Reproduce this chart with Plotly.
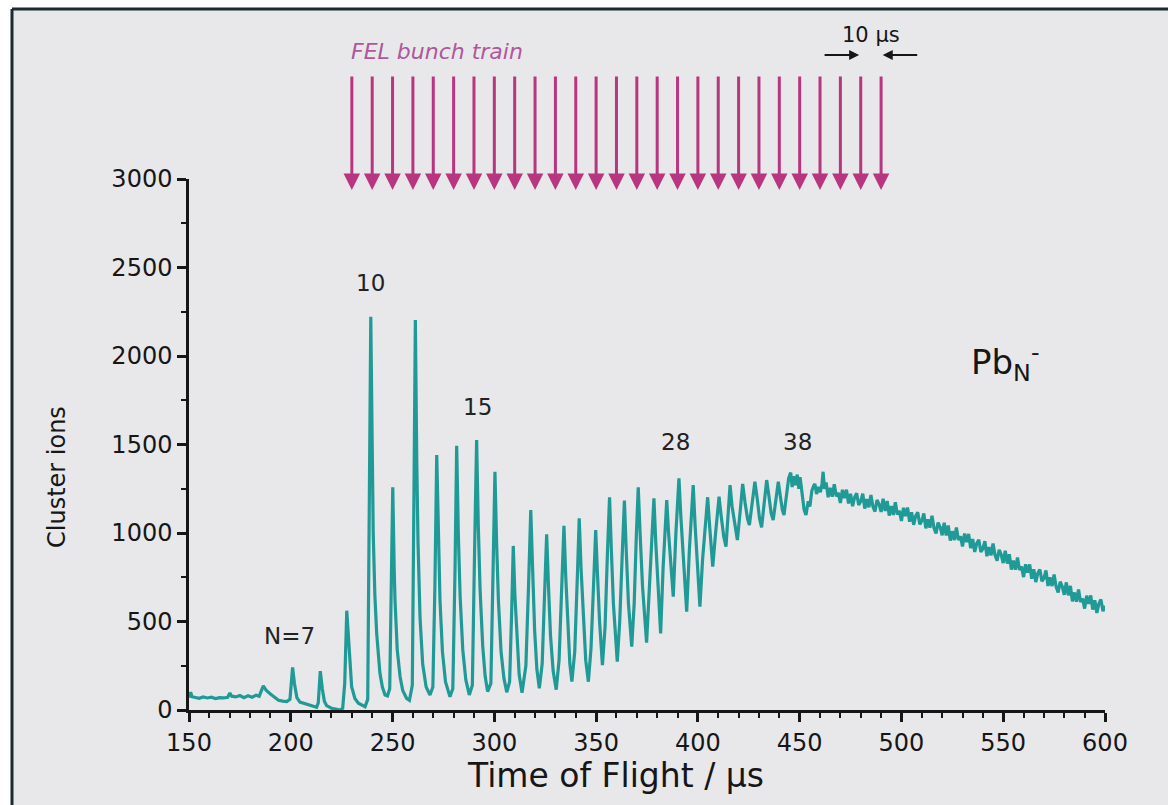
import plotly.graph_objects as go

# ---------------- data ----------------
tof_us = [
    150.0, 150.8, 151.5, 153, 155, 157, 159, 161, 163, 165, 167, 169, 170.1, 171, 173, 175, 177, 179, 181, 183,
    184.5, 186.5, 188, 190, 192, 194, 196, 198, 199.6, 200.9, 201.8, 203, 204.5, 207, 210, 212.7, 213.5, 214.5,
    215.5, 216.5, 217.6, 220, 222, 224.2, 225.5, 226.5, 227.5, 228.3, 229.2, 229.9, 231.5, 233.2, 236.5, 237.8,
    238.6, 239.3, 240.0, 240.5, 241.3, 242.2, 243.8, 245, 246.3, 247.5, 248.6, 249.4, 250.1, 250.8, 251.2, 252.3,
    253.7, 255, 256.9, 258.3, 259.7, 260.5, 261.2, 261.9, 262.5, 263.5, 264.8, 266.5, 268.4, 269.8, 270.8, 271.7,
    272.5, 273.3, 274.5, 276, 278.2, 279.6, 280.7, 281.5, 282.3, 283.2, 284.5, 286, 287.7, 289.2, 290.3, 291.3,
    292.1, 293, 294.3, 295.5, 296.7, 298.3, 299.4, 300.3, 301.1, 302, 303.3, 304.7, 306.1, 307.5, 308.5, 309.3,
    310.1, 311, 312.2, 313.6, 315.5, 316.8, 317.9, 318.8, 319.8, 320.9, 322.1, 323.5, 324.7, 325.7, 326.6, 327.6,
    328.9, 330.4, 331.8, 333.2, 334.2, 335.1, 336.1, 337.1, 338.1, 339.5, 340.8, 341.7, 342.6, 343.7, 344.9, 346.2,
    347.5, 348.9, 349.8, 350.7, 351.7, 353.1, 354.4, 355.6, 356.6, 357.5, 358.5, 360.4, 361.6, 362.9, 363.9, 364.8,
    365.9, 367.5, 368.7, 369.8, 370.7, 371.6, 372.8, 374.8, 376.2, 377.5, 378.4, 379.3, 380.3, 381.7, 382.9, 383.9,
    384.7, 385.6, 386.8, 387.9, 389.2, 390.7, 391.6, 392.8, 394.5, 395.8, 396.9, 397.7, 398.6, 399.7, 401, 402.3,
    403.8, 404.8, 405.7, 407.3, 408.7, 409.7, 410.4, 411.4, 412.7, 413.8, 415, 415.8, 416.8, 418.2, 419.4, 421,
    422, 423.2, 424.4, 425.3, 427, 428, 429.2, 430.3, 431.3, 433, 433.8, 435, 436, 437, 438.6, 439.5, 440.6,
    441.5, 442.3, 443.6, 444.6, 445.6, 446.3, 447.1, 448, 448.8, 449.6, 450.2, 451.2, 452.2, 453.1, 454.2, 455,
    456, 457, 457.5, 458.3, 459.2, 460.2, 461.0, 461.5, 462.2,
    463, 464, 465, 466, 467, 468, 469, 470, 471, 472, 473, 474, 475, 476, 477, 478, 479, 480, 481, 482, 483, 484,
    485, 486, 487, 488, 489, 490, 491, 492, 493, 494, 495, 496, 497, 498, 499, 500, 501, 502, 503, 504, 505, 506,
    507, 508, 509, 510, 511, 512, 513, 514, 515, 516, 517, 518, 519, 520, 521, 522, 523, 524, 525, 526, 527, 528,
    529, 530, 531, 532, 533, 534, 535, 536, 537, 538, 539, 540, 541, 542, 543, 544, 545, 546, 547, 548, 549, 550,
    551, 552, 553, 554, 555, 556, 557, 558, 559, 560, 561, 562, 563, 564, 565, 566, 567, 568, 569, 570, 571, 572,
    573, 574, 575, 576, 577, 578, 579, 580, 581, 582, 583, 584, 585, 586, 587, 588, 589, 590, 591, 592, 593, 594,
    595, 596, 597, 598, 599, 600,
]

cluster_ions = [
    70, 100, 75, 72, 66, 74, 68, 72, 65, 70, 68, 72, 96, 78, 74, 82, 70, 80, 72, 84,
    78, 136, 110, 90, 70, 55, 50, 48, 60, 241, 150, 70, 45, 35, 25, 15, 40, 220,
    120, 50, 25, 10, 5, 0, 10, 150, 561, 400, 200, 132, 65, 38, 19, 60,
    1200, 2222, 1500, 998, 650, 433, 207, 130, 85, 80, 120, 700, 1258, 800, 621, 340,
    188, 110, 66, 55, 140, 1200, 2203, 1400, 950, 520, 260, 130, 85, 130, 700, 1441,
    950, 620, 330, 160, 75, 120, 800, 1493, 1000, 640, 340, 170, 85, 140, 900, 1525,
    1050, 680, 360, 190, 104, 150, 800, 1346, 950, 620, 330, 180, 100, 160, 550, 927,
    650, 420, 200, 98, 250, 700, 1130, 800, 450, 230, 122, 260, 650, 993, 700, 420,
    220, 115, 280, 700, 1040, 750, 460, 260, 160, 330, 760, 1083, 800, 500, 280, 160,
    350, 750, 1017, 760, 500, 254, 470, 900, 1202, 900, 600, 273, 500, 900, 1183, 900,
    600, 358, 600, 1000, 1258, 1000, 700, 380, 700, 1000, 1196, 950, 700, 433, 800, 1050,
    1186, 1000, 800, 640, 1000, 1309, 1100, 850, 555, 900, 1150, 1271, 1050, 800, 584, 850,
    1100, 1202, 1050, 810, 1000, 1150, 1205, 1100, 980, 923, 1120, 1271, 1150, 1030, 960, 1150,
    1277, 1170, 1080, 1045, 1180, 1290, 1190, 1080, 1032, 1200, 1299, 1200, 1110, 1073, 1220, 1290, 1200,
    1130, 1102, 1240, 1310, 1341, 1260, 1320, 1270, 1330, 1250, 1315, 1200, 1130, 1102, 1180, 1150,
    1240, 1270, 1277, 1220, 1260, 1230, 1280, 1346, 1250,
    1286, 1202, 1255, 1205, 1276, 1207, 1227, 1170, 1244, 1197, 1245, 1167, 1221, 1151, 1202, 1224, 1158, 1178,
    1222, 1138, 1191, 1145, 1215, 1149, 1121, 1186, 1163, 1119, 1193, 1124, 1181, 1098, 1152, 1102, 1173, 1104,
    1125, 1068, 1142, 1096, 1144, 1064, 1117, 1046, 1096, 1117, 1049, 1068, 1110, 1026, 1077, 1030, 1097, 1028,
    997, 1059, 1034, 987, 1058, 986, 1042, 957, 1010, 960, 1031, 961, 982, 924, 997, 949, 995, 915, 966, 893,
    942, 962, 893, 911, 954, 869, 920, 873, 941, 874, 844, 905, 878, 830, 900, 827, 880, 793, 844, 793, 862,
    791, 810, 751, 823, 776, 822, 742, 795, 723, 774, 794, 727, 745, 788, 701, 750, 700, 766, 696, 664, 725,
    698, 651, 721, 648, 701, 614, 664, 612, 681, 610, 630, 573, 646, 599, 647, 567, 620, 548, 601, 624, 558, 589,
]

bunch_times_us = [230, 240, 250, 260, 270, 280, 290, 300, 310, 320, 330, 340, 350, 360,
                  370, 380, 390, 400, 410, 420, 430, 440, 450, 460, 470, 480, 490]

peak_labels = ["N=7", "10", "15", "28", "38"]
peak_label_x = [199.6, 239.2, 291.5, 389.0, 448.7]
peak_label_y = [418, 2410, 1712, 1514, 1514]

x_ticks = [150, 200, 250, 300, 350, 400, 450, 500, 550, 600]
y_ticks = [0, 500, 1000, 1500, 2000, 2500, 3000]

# ---------------- styling ----------------
TEAL = "#1f9a96"
MAGENTA = "#b8357f"
BG = "#e8e8ea"
FONT = "DejaVu Sans, Liberation Sans, Arial, sans-serif"
INK = "#161616"

W, H = 1168, 805
ML, MR, MT, MB = 189, 63, 179, 95
PW, PH = W - ML - MR, H - MT - MB


def px_to_paper_x(px):
    return (px - ML) / PW


def py_to_paper_y(py):
    return (H - MB - py) / PH


fig = go.Figure()
fig.add_trace(go.Scatter(x=tof_us, y=cluster_ions, mode="lines",
                         line=dict(color=TEAL, width=3.2), hoverinfo="x+y", showlegend=False))

annotations = []
# FEL bunch arrows
for t in bunch_times_us:
    annotations.append(dict(x=t, y=py_to_paper_y(190), xref="x", yref="paper", text="",
                            showarrow=True, ax=0, ay=-115, axref="pixel", ayref="pixel",
                            arrowhead=2, arrowsize=1.1, arrowwidth=3, arrowcolor=MAGENTA))
annotations.append(dict(x=bunch_times_us[0] - 1.2, y=py_to_paper_y(52), xref="x", yref="paper",
                        text="<i>FEL bunch train</i>", showarrow=False, xanchor="left", yanchor="middle",
                        font=dict(family=FONT, size=22, color="#b0569b")))
# 10 us spacing marker
annotations.append(dict(x=(bunch_times_us[-2] + bunch_times_us[-1]) / 2, y=py_to_paper_y(35),
                        xref="x", yref="paper", text="10 µs", showarrow=False,
                        xanchor="center", yanchor="middle",
                        font=dict(family=FONT, size=21, color=INK)))
annotations.append(dict(x=bunch_times_us[-2] - 0.8, y=py_to_paper_y(55), xref="x", yref="paper", text="",
                        showarrow=True, ax=-36, ay=0, arrowhead=2, arrowsize=1, arrowwidth=2,
                        arrowcolor=INK))
annotations.append(dict(x=bunch_times_us[-1] + 0.8, y=py_to_paper_y(55), xref="x", yref="paper", text="",
                        showarrow=True, ax=36, ay=0, arrowhead=2, arrowsize=1, arrowwidth=2,
                        arrowcolor=INK))
# peak labels
for txt, lx, ly in zip(peak_labels, peak_label_x, peak_label_y):
    annotations.append(dict(x=lx, y=ly, xref="x", yref="y", text=txt, showarrow=False,
                            xanchor="center", yanchor="middle",
                            font=dict(family=FONT, size=23, color="#222222")))
# species label
annotations.append(dict(x=551, y=1966, xref="x", yref="y", text="Pb<sub>N</sub><sup>-</sup>",
                        showarrow=False, xanchor="center", yanchor="middle",
                        font=dict(family=FONT, size=34, color=INK)))
# axis titles
annotations.append(dict(x=px_to_paper_x(615), y=py_to_paper_y(775), xref="paper", yref="paper",
                        text="Time of Flight / µs", showarrow=False, xanchor="center", yanchor="middle",
                        font=dict(family=FONT, size=33, color=INK)))
annotations.append(dict(x=px_to_paper_x(57), y=py_to_paper_y(477), xref="paper", yref="paper",
                        text="Cluster ions", textangle=-90, showarrow=False, xanchor="center", yanchor="middle",
                        font=dict(family=FONT, size=24, color=INK)))

shapes = [
    dict(type="rect", xref="paper", yref="paper", layer="below",
         x0=px_to_paper_x(12), x1=px_to_paper_x(1175), y0=py_to_paper_y(810), y1=py_to_paper_y(9),
         fillcolor=BG, line=dict(width=0)),
    dict(type="line", xref="paper", yref="paper", x0=px_to_paper_x(12), x1=px_to_paper_x(12),
         y0=py_to_paper_y(810), y1=py_to_paper_y(9), line=dict(color="#1d2a30", width=3)),
    dict(type="line", xref="paper", yref="paper", x0=px_to_paper_x(12), x1=px_to_paper_x(1175),
         y0=py_to_paper_y(9), y1=py_to_paper_y(9), line=dict(color="#1d2a30", width=3)),
]

fig.update_layout(
    width=W, height=H,
    margin=dict(l=ML, r=MR, t=MT, b=MB, pad=0),
    paper_bgcolor="white", plot_bgcolor=BG,
    font=dict(family=FONT, color=INK),
    annotations=annotations, shapes=shapes,
    showlegend=False,
)
fig.update_xaxes(range=[150, 600], tickvals=x_ticks, showgrid=False, zeroline=False,
                 showline=True, linecolor=INK, linewidth=2.5,
                 ticks="outside", ticklen=9, tickwidth=2.5, tickcolor=INK,
                 tickfont=dict(family=FONT, size=24, color=INK),
                 minor=dict(dtick=10, ticks="outside", ticklen=5, tickwidth=2, tickcolor=INK))
fig.update_yaxes(range=[0, 3000], tickvals=y_ticks, showgrid=False, zeroline=False,
                 showline=True, linecolor=INK, linewidth=2.5,
                 ticks="outside", ticklen=9, tickwidth=2.5, tickcolor=INK,
                 tickfont=dict(family=FONT, size=24, color=INK),
                 minor=dict(dtick=250, ticks="outside", ticklen=5, tickwidth=2, tickcolor=INK))

fig.write_html("out.html")
